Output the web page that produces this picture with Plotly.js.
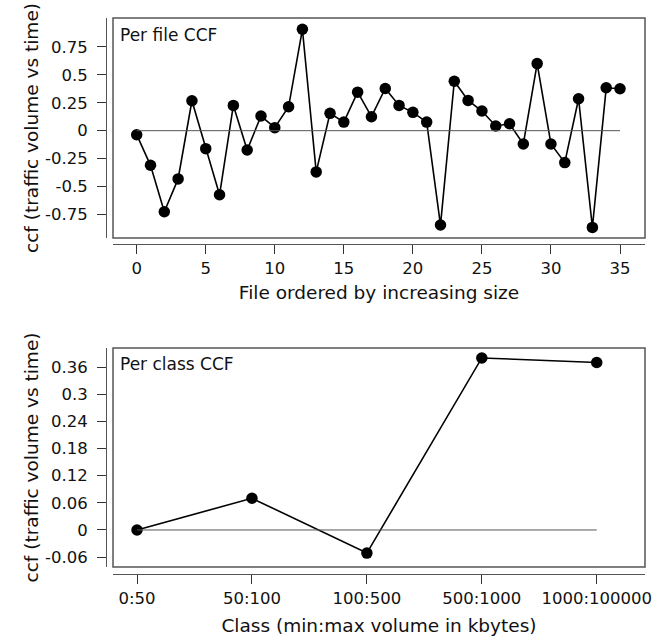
<!DOCTYPE html>
<html>
<head>
<meta charset="utf-8">
<script src="https://cdn.plot.ly/plotly-3.0.1.min.js"></script>
<style>html,body{margin:0;padding:0;background:#fff;}#chart{width:659px;height:637px;}</style>
</head>
<body>
<div id="chart"></div>
<script>
// ---- data ----
const fileIndex = [0,1,2,3,4,5,6,7,8,9,10,11,12,13,14,15,16,17,18,19,20,21,22,23,24,25,26,27,28,29,30,31,32,33,34,35];
const fileCcf = [-0.036,-0.31,-0.726,-0.432,0.268,-0.161,-0.574,0.226,-0.173,0.131,0.027,0.214,0.908,-0.369,
                 0.155,0.077,0.345,0.125,0.378,0.226,0.164,0.077,-0.845,0.443,0.271,0.176,0.042,0.062,-0.119,0.601,
                 -0.119,-0.286,0.286,-0.866,0.384,0.375];
const classLabels = ["0:50","50:100","100:500","500:1000","1000:100000"];
const classCcf = [0.0, 0.070, -0.051, 0.380, 0.370];

const topXTicks = [0,5,10,15,20,25,30,35];
const topYTickVals = [-0.75,-0.5,-0.25,0,0.25,0.5,0.75];
const topYTickText = ["-0.75","-0.5","-0.25","0","0.25","0.5","0.75"];
const botYTickVals = [-0.06,0,0.06,0.12,0.18,0.24,0.3,0.36];
const botYTickText = ["-0.06","0","0.06","0.12","0.18","0.24","0.3","0.36"];

// ---- layout helpers (pixels -> paper) ----
const W = 659, H = 637;
const px = v => v / W;
const py = v => 1 - v / H;

const FONT = "DejaVu Sans, sans-serif";
const TICK = 16.5, TITLE = 18.5, LABEL = 17;
const markerStyle = {color: "#000", size: 11.5};
const lineStyle = {color: "#000", width: 1.6};
const zeroStyle = {color: "#555", width: 1};

const traces = [
  {x: fileIndex, y: fileCcf, xaxis: "x", yaxis: "y", mode: "lines+markers",
   line: lineStyle, marker: markerStyle, showlegend: false},
  {x: [fileIndex[0], fileIndex[fileIndex.length-1]], y: [0, 0], xaxis: "x", yaxis: "y",
   mode: "lines", line: zeroStyle, hoverinfo: "skip", showlegend: false},
  {x: classLabels, y: classCcf, xaxis: "x2", yaxis: "y2", mode: "lines+markers",
   line: lineStyle, marker: markerStyle, showlegend: false},
  {x: [classLabels[0], classLabels[classLabels.length-1]], y: [0, 0], xaxis: "x2", yaxis: "y2",
   mode: "lines", line: zeroStyle, hoverinfo: "skip", showlegend: false}
];

const axisCommon = {
  showgrid: false, zeroline: false, showline: true, linecolor: "#555", linewidth: 1,
  ticks: "outside", ticklen: 9, tickcolor: "#333", tickwidth: 1,
  tickfont: {family: FONT, size: TICK, color: "#111"},
  automargin: false, fixedrange: true
};

const layout = {
  width: W, height: H,
  margin: {l: 0, r: 0, t: 0, b: 0},
  paper_bgcolor: "#fff", plot_bgcolor: "#fff",
  font: {family: FONT, color: "#111"},
  showlegend: false,
  xaxis: Object.assign({}, axisCommon, {
    domain: [px(113), px(645)], anchor: "free", position: py(244),
    range: [-1.716, 36.81], tickmode: "array", tickvals: topXTicks,
    title: {text: "File ordered by increasing size", standoff: 9, font: {family: FONT, size: TITLE, color: "#111"}}
  }),
  yaxis: Object.assign({}, axisCommon, {
    domain: [py(238), py(18)], anchor: "free", position: px(106),
    range: [-0.961, 1.009], tickmode: "array", tickvals: topYTickVals, ticktext: topYTickText,
    ticklabelstandoff: 6,
    title: {text: "ccf (traffic volume vs time)", standoff: 0, font: {family: FONT, size: TITLE, color: "#111"}}
  }),
  xaxis2: Object.assign({}, axisCommon, {
    domain: [px(113), px(645)], anchor: "free", position: py(574),
    type: "category", categoryorder: "array", categoryarray: classLabels, range: [-0.209, 4.42],
    title: {text: "Class (min:max volume in kbytes)", standoff: 12, font: {family: FONT, size: TITLE, color: "#111"}}
  }),
  yaxis2: Object.assign({}, axisCommon, {
    domain: [py(567), py(348)], anchor: "free", position: px(106),
    range: [-0.0818, 0.402], tickmode: "array", tickvals: botYTickVals, ticktext: botYTickText,
    ticklabelstandoff: 6,
    title: {text: "ccf (traffic volume vs time)", standoff: 0, font: {family: FONT, size: TITLE, color: "#111"}}
  }),
  shapes: [
    {type: "rect", xref: "x domain", yref: "y domain", x0: 0, x1: 1, y0: 0, y1: 1,
     line: {color: "#555", width: 1.5}, layer: "below"},
    {type: "rect", xref: "x2 domain", yref: "y2 domain", x0: 0, x1: 1, y0: 0, y1: 1,
     line: {color: "#555", width: 1.5}, layer: "below"}
  ],
  annotations: [
    {text: "Per file CCF", xref: "paper", yref: "paper", x: px(118), y: py(35),
     xanchor: "left", yanchor: "middle", showarrow: false,
     font: {family: FONT, size: LABEL, color: "#111"}},
    {text: "Per class CCF", xref: "paper", yref: "paper", x: px(118), y: py(364),
     xanchor: "left", yanchor: "middle", showarrow: false,
     font: {family: FONT, size: LABEL, color: "#111"}}
  ]
};

Plotly.newPlot("chart", traces, layout, {displayModeBar: false, staticPlot: true});
</script>
</body>
</html>
